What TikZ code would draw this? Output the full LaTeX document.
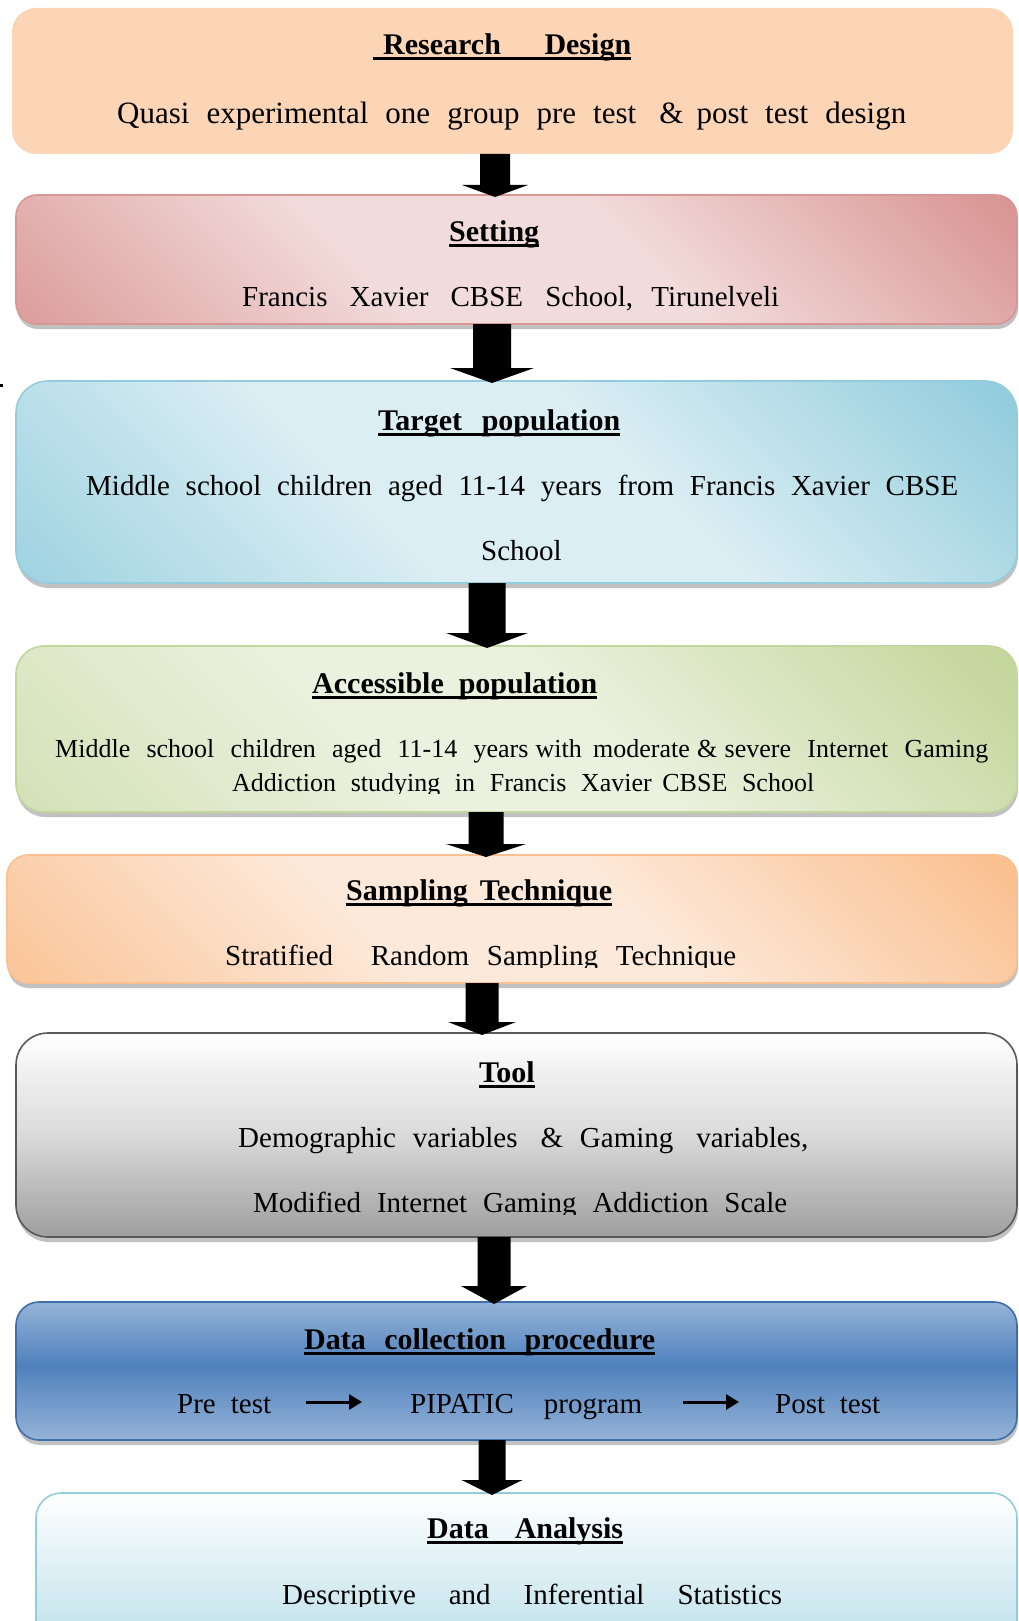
\documentclass[tikz,border=0pt]{standalone}
\usepackage{fontspec}
\setmainfont{Liberation Serif}
\usetikzlibrary{calc,shadows,arrows.meta}

\definecolor{peach}{HTML}{FBD5B5}
\definecolor{pinkL}{HTML}{F2DCDB}
\definecolor{pinkD}{HTML}{D99694}
\definecolor{cyanL}{HTML}{DBEEF4}
\definecolor{cyanD}{HTML}{93CDDD}
\definecolor{grnL}{HTML}{EBF1DE}
\definecolor{grnD}{HTML}{C3D69B}
\definecolor{orgL}{HTML}{FDE9D9}
\definecolor{orgD}{HTML}{FAC090}
\definecolor{gryD}{HTML}{9E9E9E}
\definecolor{gryM}{HTML}{DADADA}
\definecolor{bluL}{HTML}{95B3D7}
\definecolor{bluD}{HTML}{4F81BD}
\definecolor{bluB}{HTML}{3F6FAA}
\definecolor{anaD}{HTML}{B7DEE8}

\pgfdeclarehorizontalshading{pinkdiag}{100bp}{color(0bp)=(pinkD); color(16bp)=(pinkD!85!pinkL); color(40bp)=(pinkL); color(58bp)=(pinkL); color(84bp)=(pinkD); color(100bp)=(pinkD)}
\pgfdeclarehorizontalshading{cyandiag}{100bp}{color(0bp)=(cyanD); color(16bp)=(cyanD!80!cyanL); color(40bp)=(cyanL); color(58bp)=(cyanL); color(84bp)=(cyanD); color(100bp)=(cyanD)}
\pgfdeclarehorizontalshading{grndiag}{100bp}{color(0bp)=(grnD!70!grnL); color(16bp)=(grnD!55!grnL); color(40bp)=(grnL); color(55bp)=(grnL); color(84bp)=(grnD); color(100bp)=(grnD)}
\pgfdeclarehorizontalshading{orgdiag}{100bp}{color(0bp)=(orgD); color(16bp)=(orgD!85!orgL); color(40bp)=(orgL); color(58bp)=(orgL); color(84bp)=(orgD); color(100bp)=(orgD)}
\pgfdeclareverticalshading{gryvert}{100bp}{color(0bp)=(gryD); color(25bp)=(gryD); color(50bp)=(gryM); color(75bp)=(white); color(100bp)=(white)}
\pgfdeclareverticalshading{bluvert}{100bp}{color(0bp)=(bluL); color(25bp)=(bluL); color(52bp)=(bluD); color(75bp)=(bluL); color(100bp)=(bluL)}
\pgfdeclareverticalshading{anavert}{100bp}{color(0bp)=(anaD); color(25bp)=(anaD); color(75bp)=(white); color(100bp)=(white)}

\newcommand\blockarr[6]{%
  \fill[black] let \p1=(#2.south), \p2=(#3.north) in
    (#1pt-#4pt,\y1) -- (#1pt+#4pt,\y1) -- (#1pt+#4pt,\y2-2pt+#6pt) -- (#1pt+#5pt,\y2-2pt+#6pt)
    -- (#1pt,\y2-2pt) -- (#1pt-#5pt,\y2-2pt+#6pt) -- (#1pt-#4pt,\y2-2pt+#6pt) -- cycle;}

\tikzset{
  box/.style={rectangle, inner sep=0pt, outer sep=0pt, line width=1.6pt},
  shad/.style={drop shadow={shadow xshift=1pt, shadow yshift=-5pt, opacity=0.4, fill=black!60}},
  ttl/.style={anchor=base west, inner sep=0pt, font=\fontsize{30}{36}\selectfont\bfseries},
  txt/.style={anchor=base west, inner sep=0pt, font=\fontsize{29}{35}\selectfont},
  txts/.style={anchor=base west, inner sep=0pt, font=\fontsize{26}{31}\selectfont},
  txtl/.style={anchor=base west, inner sep=0pt, font=\fontsize{31}{37}\selectfont},
  uline/.style={line width=3pt},
  inarrow/.style={line width=3pt, -{Triangle[length=13pt,width=15pt]}}
}

\begin{document}
\begin{tikzpicture}[x=1pt,y=-1pt]
\useasboundingbox (0,0) rectangle (1018,1621);
\fill[white] (0,0) rectangle (1018,1621);
\clip (0,0) rectangle (1018,1621);

% boxes
\node[box, fill=peach, rounded corners=24pt, minimum width=1001pt, minimum height=146pt] (b1) at (512.5,81) {};
\node[box, shad, shading=pinkdiag, shading angle=45, draw=pinkD, rounded corners=21pt, minimum width=1001pt, minimum height=129pt] (b2) at (516.5,259.5) {};
\node[box, shad, shading=cyandiag, shading angle=45, draw=cyanD, rounded corners=32pt, minimum width=1001pt, minimum height=202pt] (b3) at (516.5,482) {};
\node[box, shad, shading=grndiag, shading angle=45, draw=grnD, rounded corners=28pt, minimum width=1001pt, minimum height=166pt] (b4) at (516.5,729) {};
\node[box, shad, shading=orgdiag, shading angle=45, draw=orgD, rounded corners=21pt, minimum width=1010pt, minimum height=128pt] (b5) at (512,919) {};
\node[box, shad, shading=gryvert, draw=black!65, rounded corners=32pt, minimum width=1001pt, minimum height=204pt] (b6) at (516.5,1135) {};
\node[box, shad, shading=bluvert, draw=bluB, rounded corners=23pt, minimum width=1001pt, minimum height=138pt] (b7) at (516.5,1371) {};
\node[box, shading=anavert, draw=cyanD, rounded corners=25pt, minimum width=981pt, minimum height=167pt] (b8) at (526.5,1576.5) {};

% block arrows
\blockarr{495}{b1}{b2}{15}{33}{12}
\blockarr{492}{b2}{b3}{19}{42}{15}
\blockarr{487}{b3}{b4}{18.5}{41}{15}
\blockarr{486}{b4}{b5}{17.5}{40}{13}
\blockarr{482}{b5}{b6}{16.5}{34}{13}
\blockarr{494}{b6}{b7}{16.5}{33}{18}
\blockarr{492}{b7}{b8}{13.5}{30.5}{15}

% stray mark
\fill (0,384) rectangle (3,387);

% box 1
\node[ttl] (t1) at (383,55) {\makebox[248pt][s]{Research Design}};
\draw[uline] ([xshift=-10pt,yshift=-4pt]t1.base west) -- ([yshift=-4pt]t1.base east);
\node[txtl] (d1) at (117,124) {\makebox[789pt][s]{Quasi experimental one group pre test\hspace{6pt} \&\hspace{-4pt} post test design}};

% box 2
\node[ttl] (t2) at (449,242) {Setting};
\draw[uline] ([yshift=-4pt]t2.base west) -- ([yshift=-4pt]t2.base east);
\node[txt] (d2) at (242,306) {\makebox[537pt][s]{Francis\hspace{6pt} Xavier\hspace{6pt} CBSE\hspace{6pt} School, Tirunelveli}};

% box 3
\node[ttl] (t3) at (378,430) {\makebox[242pt][s]{Target population}};
\draw[uline] ([yshift=-4pt]t3.base west) -- ([yshift=-4pt]t3.base east);
\node[txt] (d3a) at (86,495) {\makebox[872pt][s]{Middle school children aged 11-14 years from Francis Xavier CBSE}};
\node[txt] (d3b) at (481,560) {School};

% box 4
\node[ttl] (t4) at (312,693) {\makebox[285pt][s]{Accessible population}};
\draw[uline] ([yshift=-4pt]t4.base west) -- ([yshift=-4pt]t4.base east);
\node[txts] (d4a) at (55,757) {\makebox[933pt][s]{Middle\hspace{5pt} school\hspace{5pt} children\hspace{5pt} aged\hspace{5pt} 11-14\hspace{5pt} years\hspace{-4pt} with moderate\hspace{-4pt} \&\hspace{-4pt} severe\hspace{5pt} Internet\hspace{5pt} Gaming}};
\begin{scope}
\clip (0,700) rectangle (1018,793);
\node[txts] (d4b) at (232,791) {\makebox[582pt][s]{Addiction studying in Francis Xavier\hspace{-4pt} CBSE School}};
\end{scope}

% box 5
\node[ttl] (t5) at (346,900) {\makebox[266pt][s]{Sampling Technique}};
\draw[uline] ([yshift=-4pt]t5.base west) -- ([yshift=-4pt]t5.base east);
\begin{scope}
\clip (0,910) rectangle (1018,967);
\node[txt] (d5) at (225,965) {\makebox[511pt][s]{Stratified\hspace{20pt} Random Sampling Technique}};
\end{scope}

% box 6
\node[ttl] (t6) at (479,1082) {Tool};
\draw[uline] ([yshift=-4pt]t6.base west) -- ([yshift=-4pt]t6.base east);
\node[txt] (d6a) at (238,1147) {\makebox[570pt][s]{Demographic variables\hspace{6pt} \& Gaming\hspace{6pt} variables,}};
\begin{scope}
\clip (0,1160) rectangle (1018,1214);
\node[txt] (d6b) at (253,1212) {\makebox[534pt][s]{Modified Internet Gaming Addiction Scale}};
\end{scope}

% box 7
\node[ttl] (t7) at (304,1349) {\makebox[351pt][s]{Data collection procedure}};
\draw[uline] ([yshift=-4pt]t7.base west) -- ([yshift=-4pt]t7.base east);
\node[txt] (p1) at (177,1413) {\makebox[94pt][s]{Pre test}};
\node[txt] (p2) at (410,1413) {\makebox[232pt][s]{PIPATIC program}};
\node[txt] (p3) at (775,1413) {\makebox[105pt][s]{Post test}};
\draw[inarrow] ([xshift=35pt,yshift=11pt]p1.base east) -- ([xshift=-48pt,yshift=11pt]p2.base west);
\draw[inarrow] ([xshift=41pt,yshift=11pt]p2.base east) -- ([xshift=-36pt,yshift=11pt]p3.base west);

% box 8
\node[ttl] (t8) at (427,1538) {\makebox[196pt][s]{Data Analysis}};
\draw[uline] ([yshift=-4pt]t8.base west) -- ([yshift=-4pt]t8.base east);
\begin{scope}
\clip (0,1550) rectangle (1018,1606);
\node[txt] (d8) at (282,1604) {\makebox[500pt][s]{Descriptive and Inferential Statistics}};
\end{scope}
\end{tikzpicture}
\end{document}
